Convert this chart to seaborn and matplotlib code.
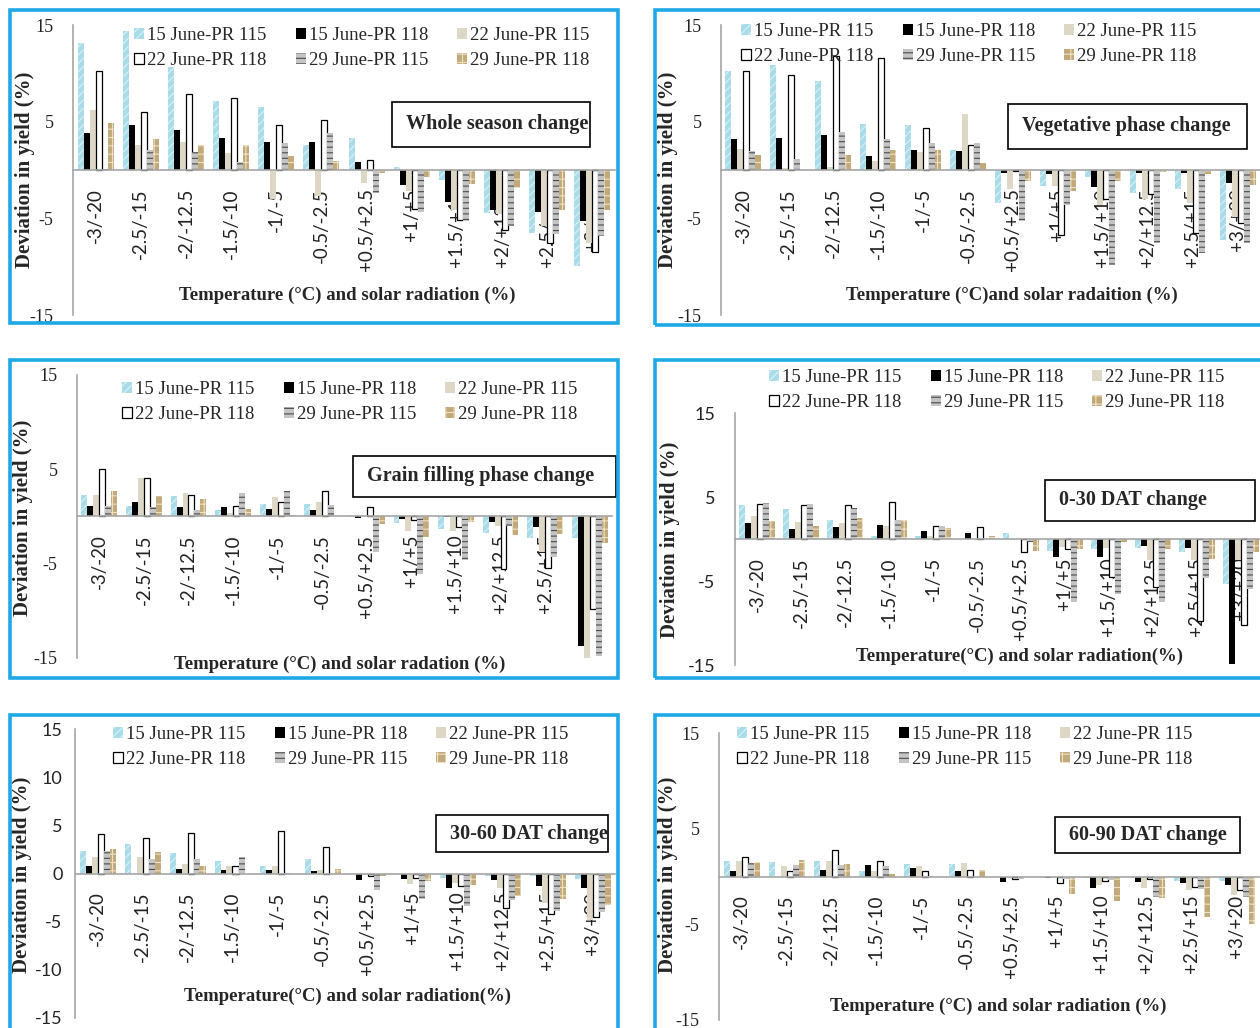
import matplotlib
matplotlib.use("Agg")
import matplotlib.pyplot as plt
from matplotlib.patches import Rectangle
import pandas as pd
import seaborn as sns

sns.set_theme(style="white")
plt.rcParams["font.family"] = ["Liberation Serif", "DejaVu Serif"]
plt.rcParams["hatch.linewidth"] = 0.8

W, H = 1260, 1028

categories = ["-3/-20", "-2.5/-15", "-2/-12.5", "-1.5/-10", "-1/-5", "-0.5/-2.5",
              "+0.5/+2.5", "+1/+5", "+1.5/+10", "+2/+12.5", "+2.5/+15", "+3/+20"]
series = ["15 June-PR 115", "15 June-PR 118", "22 June-PR 115",
          "22 June-PR 118", "29 June-PR 115", "29 June-PR 118"]

# deviation in yield (%), one row per sowing date / variety
whole_season = [
    [13.1, 14.4, 10.7, 7.1, 6.5, 2.6, 3.3, 0.3, -1.0, -4.4, -6.5, -9.9],
    [3.8, 4.7, 4.1, 3.3, 2.9, 2.9, 0.8, -1.5, -3.3, -4.1, -4.3, -5.3],
    [6.2, 2.6, 2.9, 1.8, -3.0, -2.7, -1.3, -2.2, -4.1, -4.6, -5.8, -7.6],
    [10.2, 6.0, 7.9, 7.4, 4.7, 5.2, 1.0, -4.0, -5.2, -6.2, -7.6, -8.5],
    [0.1, 2.1, 1.9, 0.8, 2.8, 3.8, -2.4, -4.3, -5.3, -5.8, -6.6, -6.8],
    [4.9, 3.2, 2.6, 2.6, 1.5, 0.9, -0.3, -0.7, -1.4, -1.9, -4.1, -4.1],
]
vegetative = [
    [10.2, 10.9, 9.2, 4.8, 4.7, 2.1, -3.4, -1.7, -0.7, -2.4, -2.0, -7.2],
    [3.2, 3.3, 3.6, 1.5, 2.1, 2.0, -0.3, -0.4, -1.8, -0.3, -0.3, -1.3],
    [2.2, 0.2, 0.3, 0.9, 1.9, 5.8, -2.0, -1.7, -3.6, -3.0, -3.4, -4.9],
    [10.2, 9.8, 11.8, 11.6, 4.3, 2.6, -0.1, -6.7, -3.0, -2.5, -6.5, -5.5],
    [2.0, 1.1, 3.9, 3.2, 2.8, 2.8, -5.3, -3.6, -9.8, -7.5, -8.6, -7.6],
    [1.6, 0.0, 1.6, 2.1, 2.1, 0.7, -1.1, -2.2, -1.1, -0.2, -0.4, -1.5],
]
grain_filling = [
    [2.3, 1.1, 2.2, 0.7, 1.3, 1.3, -0.1, -0.7, -1.3, -1.7, -2.3, -2.3],
    [1.1, 1.5, 1.0, 1.0, 0.8, 0.7, -0.2, -0.3, -0.1, -0.6, -1.1, -13.7],
    [2.3, 4.1, 2.5, 0.4, 2.1, 1.5, 0.0, -1.5, -1.5, -1.0, -3.8, -15.0],
    [5.0, 4.1, 2.3, 1.1, 1.5, 2.7, 1.0, -0.4, -1.1, -5.6, -5.5, -9.8],
    [1.1, 1.0, 0.7, 2.5, 2.7, 1.2, -3.8, -6.1, -4.6, -1.0, -4.3, -14.8],
    [2.7, 2.2, 1.9, 0.8, 0.2, 0.0, -0.8, -2.2, -0.6, -2.0, -1.9, -2.8],
]
dat_0_30 = [
    [4.0, 3.6, 2.3, 0.4, 0.4, 0.0, 0.7, -1.4, -1.2, -1.1, -1.5, -5.4],
    [1.9, 1.2, 1.4, 1.7, 1.0, 0.7, 0.0, -2.1, -2.2, -0.8, -1.1, -14.9],
    [2.7, 2.0, 1.9, 1.6, 0.3, 0.0, 0.0, -0.9, -1.1, -2.5, -2.5, -2.5],
    [4.2, 4.0, 4.1, 4.4, 1.6, 1.4, -1.5, -1.2, -4.5, -5.7, -9.8, -10.2],
    [4.3, 4.2, 3.7, 2.3, 1.5, 0.0, -0.3, -7.5, -6.5, -7.5, -4.7, -5.9],
    [2.1, 1.6, 2.5, 2.3, 1.3, 0.4, -1.4, -1.2, -0.3, -1.2, -2.4, -1.5],
]
dat_30_60 = [
    [2.3, 3.1, 2.1, 1.3, 0.8, 1.5, 0.0, 0.0, -0.5, -0.3, -0.3, -0.6],
    [0.8, 0.0, 0.5, 0.4, 0.4, 0.3, -0.7, -0.6, -1.5, -0.7, -1.3, -1.5],
    [1.7, 1.7, 1.0, 0.8, 0.8, 0.4, -0.2, -1.1, -1.0, -1.5, -3.1, -4.8],
    [4.1, 3.7, 4.2, 0.8, 4.4, 2.8, -0.3, -0.5, -1.3, -3.6, -4.2, -4.5],
    [2.3, 1.5, 1.5, 1.7, 0.1, 0.0, -1.7, -2.6, -3.4, -2.7, -3.9, -4.0],
    [2.5, 2.2, 0.8, 0.0, 0.0, 0.5, -0.3, -0.8, -1.2, -2.3, -2.6, -3.3],
]
dat_60_90 = [
    [1.6, 1.5, 1.6, 0.6, 1.3, 1.3, -0.1, -0.2, -0.2, -0.2, -0.5, -0.5],
    [0.6, 0.0, 0.7, 1.2, 0.9, 0.6, -0.6, -0.2, -1.2, -0.6, -0.7, -0.9],
    [1.6, 1.1, 1.6, 0.6, 1.1, 1.4, -0.1, -0.2, -0.9, -1.2, -1.4, -1.9],
    [2.0, 0.6, 2.8, 1.6, 0.6, 0.7, -0.3, -0.7, -0.5, -0.3, -1.1, -1.4],
    [1.4, 1.2, 1.2, 1.1, 0.1, 0.0, -0.3, -0.3, -0.4, -2.1, -1.3, -2.1],
    [1.5, 1.7, 1.3, 0.3, 0.0, 0.7, -0.1, -1.8, -2.6, -2.2, -4.2, -5.0],
]

# bar styles: face, hatch colour, hatch, edge width
face = ["#a9dce8", "#000000", "#ddd8c6", "#ffffff", "#c4c4c4", "#c2a97a"]
hatch_col = ["#d9f1f6", "#000000", "#ddd8c6", "#000000", "#4a4a4a", "#ede1c4"]
hatches = ["////", None, None, None, "---", "++"]
edge_w = [0, 0, 0, 0.9, 0, 0]

# panel layouts in pixels (left, top, right, bottom of plot area)
panels = [
    dict(data=whole_season, box=(73, 25, 615, 315),
         frame=(10, 10, 618, 323),
         title="Whole season change", tbox=(392, 102, 590, 147),
         xlabel="Temperature (\u00b0C) and solar radiation (%)", xl=(347, 295),
         yl=(25, 170), leg=(134, 27), ticks=[-15, -5, 5, 15], tickfont="serif", tpad=14),
    dict(data=vegetative, box=(721, 25, 1260, 315),
         frame=(655, 10, 1275, 325),
         title="Vegetative phase change", tbox=(1008, 104, 1247, 149),
         xlabel="Temperature (\u00b0C)and solar radaition (%)", xl=(1012, 295),
         yl=(668, 170), leg=(741, 23), ticks=[-15, -5, 5, 15], tickfont="serif", tpad=14),
    dict(data=grain_filling, box=(77, 375, 612, 658),
         frame=(10, 360, 618, 678),
         title="Grain filling phase change", tbox=(353, 456, 616, 497),
         xlabel="Temperature (\u00b0C) and solar radation (%)", xl=(340, 664),
         yl=(23, 518), leg=(122, 381), ticks=[-15, -5, 5, 15], tickfont="serif", tpad=14),
    dict(data=dat_0_30, box=(735, 413, 1263, 665),
         frame=(655, 360, 1275, 678),
         title="0-30 DAT change", tbox=(1045, 480, 1255, 521),
         xlabel="Temperature(\u00b0C) and solar radiation(%)", xl=(1020, 656),
         yl=(670, 540), leg=(769, 369), ticks=[-15, -5, 5, 15], tickfont="sans", tpad=14),
    dict(data=dat_30_60, box=(75, 729, 615, 1018),
         frame=(10, 715, 618, 1040),
         title="30-60 DAT change", tbox=(436, 815, 608, 852),
         xlabel="Temperature(\u00b0C) and solar radiation(%)", xl=(347, 996),
         yl=(22, 875), leg=(113, 726), ticks=[-15, -10, -5, 0, 5, 10, 15], tickfont="sans",
         tpad=9),
    dict(data=dat_60_90, box=(719, 733, 1259, 1020),
         frame=(655, 715, 1275, 1040),
         title="60-90 DAT change", tbox=(1055, 817, 1240, 853),
         xlabel="Temperature (\u00b0C) and solar radiation (%)", xl=(998, 1006),
         yl=(668, 875), leg=(737, 726), ticks=[-15, -5, 5, 15], tickfont="serif", tpad=14),
]

fig = plt.figure(figsize=(W / 100, H / 100), dpi=100)
fig.patch.set_facecolor("white")

serif = ["Liberation Serif", "DejaVu Serif"]
sans = ["Lato", "DejaVu Sans"]
axis_grey = "#a6a6a6"
frame_col = "#1ea9e6"

for p in panels:
    l, t, r, b = p["box"]
    ax = fig.add_axes([l / W, 1 - b / H, (r - l) / W, (b - t) / H])
    ax.set_facecolor("none")

    rows = []
    for s, vals in zip(series, p["data"]):
        for c, v in zip(categories, vals):
            rows.append({"cat": c, "series": s, "value": v})
    df = pd.DataFrame(rows)

    sns.barplot(data=df, x="cat", y="value", hue="series", order=categories,
                hue_order=series, palette=face, saturation=1, errorbar=None,
                width=0.8, legend=False, ax=ax)

    for i, cont in enumerate(ax.containers):
        for patch in cont.patches:
            patch.set_facecolor(face[i])
            patch.set_edgecolor(hatch_col[i])
            patch.set_linewidth(edge_w[i])
            if hatches[i]:
                patch.set_hatch(hatches[i])

    ax.set_xlim(-0.5, len(categories) - 0.5)
    ax.set_ylim(-15, 15)
    ax.set_yticks(p["ticks"])
    ax.set_yticklabels([str(v) for v in p["ticks"]])
    for sp in ["top", "right"]:
        ax.spines[sp].set_visible(False)
    ax.spines["left"].set_color(axis_grey)
    ax.spines["left"].set_linewidth(1.2)
    ax.spines["bottom"].set_position(("data", 0))
    ax.spines["bottom"].set_color(axis_grey)
    ax.spines["bottom"].set_linewidth(1.2)
    ax.tick_params(axis="x", length=0, pad=13, labelrotation=90,
                   labelsize=13.5, labelcolor="#222222")
    ax.tick_params(axis="y", length=0, pad=p["tpad"], labelsize=13, labelcolor="#222222")
    for lab in ax.get_xticklabels():
        lab.set_family(sans)
    for lab in ax.get_yticklabels():
        lab.set_family(serif if p["tickfont"] == "serif" else sans)

    ax.set_xlabel(p["xlabel"], fontsize=13.5, fontweight="bold", family=serif)
    ax.set_ylabel("Deviation in yield (%)", fontsize=15, fontweight="bold", family=serif)
    xl, yl = p["xl"], p["yl"]
    ax.xaxis.set_label_coords((xl[0] - l) / (r - l), (b - xl[1]) / (b - t))
    ax.xaxis.label.set_va("center")
    ax.yaxis.set_label_coords((yl[0] - l) / (r - l), (b - yl[1]) / (b - t))
    ax.yaxis.label.set_va("center")

    handles = [ax.containers[i].patches[0] for i in range(len(series))]
    order = [0, 3, 1, 4, 2, 5]
    lx, ly = p["leg"]
    ax.legend([handles[k] for k in order], [series[k] for k in order], ncol=3,
              loc="upper left", bbox_to_anchor=(lx / W, 1 - ly / H),
              bbox_transform=fig.transFigure, frameon=False,
              prop={"family": serif, "size": 13.5},
              handlelength=0.55, handleheight=0.55, handletextpad=0.15,
              columnspacing=1.55, labelspacing=0.45, borderpad=0, borderaxespad=0)

    # panel heading in a framed box
    x0, y0, x1, y1 = p["tbox"]
    fig.add_artist(Rectangle((x0 / W, 1 - y1 / H), (x1 - x0) / W, (y1 - y0) / H,
                             transform=fig.transFigure, facecolor="white",
                             edgecolor="black", linewidth=1.2, zorder=3))
    fig.text((x0 + 14) / W, 1 - (y0 + y1) / 2 / H, p["title"], fontsize=14.5,
             fontweight="bold", family=serif, va="center", ha="left", zorder=4)

    # outer panel frame
    fx0, fy0, fx1, fy1 = p["frame"]
    fig.add_artist(Rectangle((fx0 / W, 1 - fy1 / H), (fx1 - fx0) / W, (fy1 - fy0) / H,
                             transform=fig.transFigure, fill=False,
                             edgecolor=frame_col, linewidth=2.6, zorder=5))

fig.savefig("out.png", dpi=100, facecolor="white")
